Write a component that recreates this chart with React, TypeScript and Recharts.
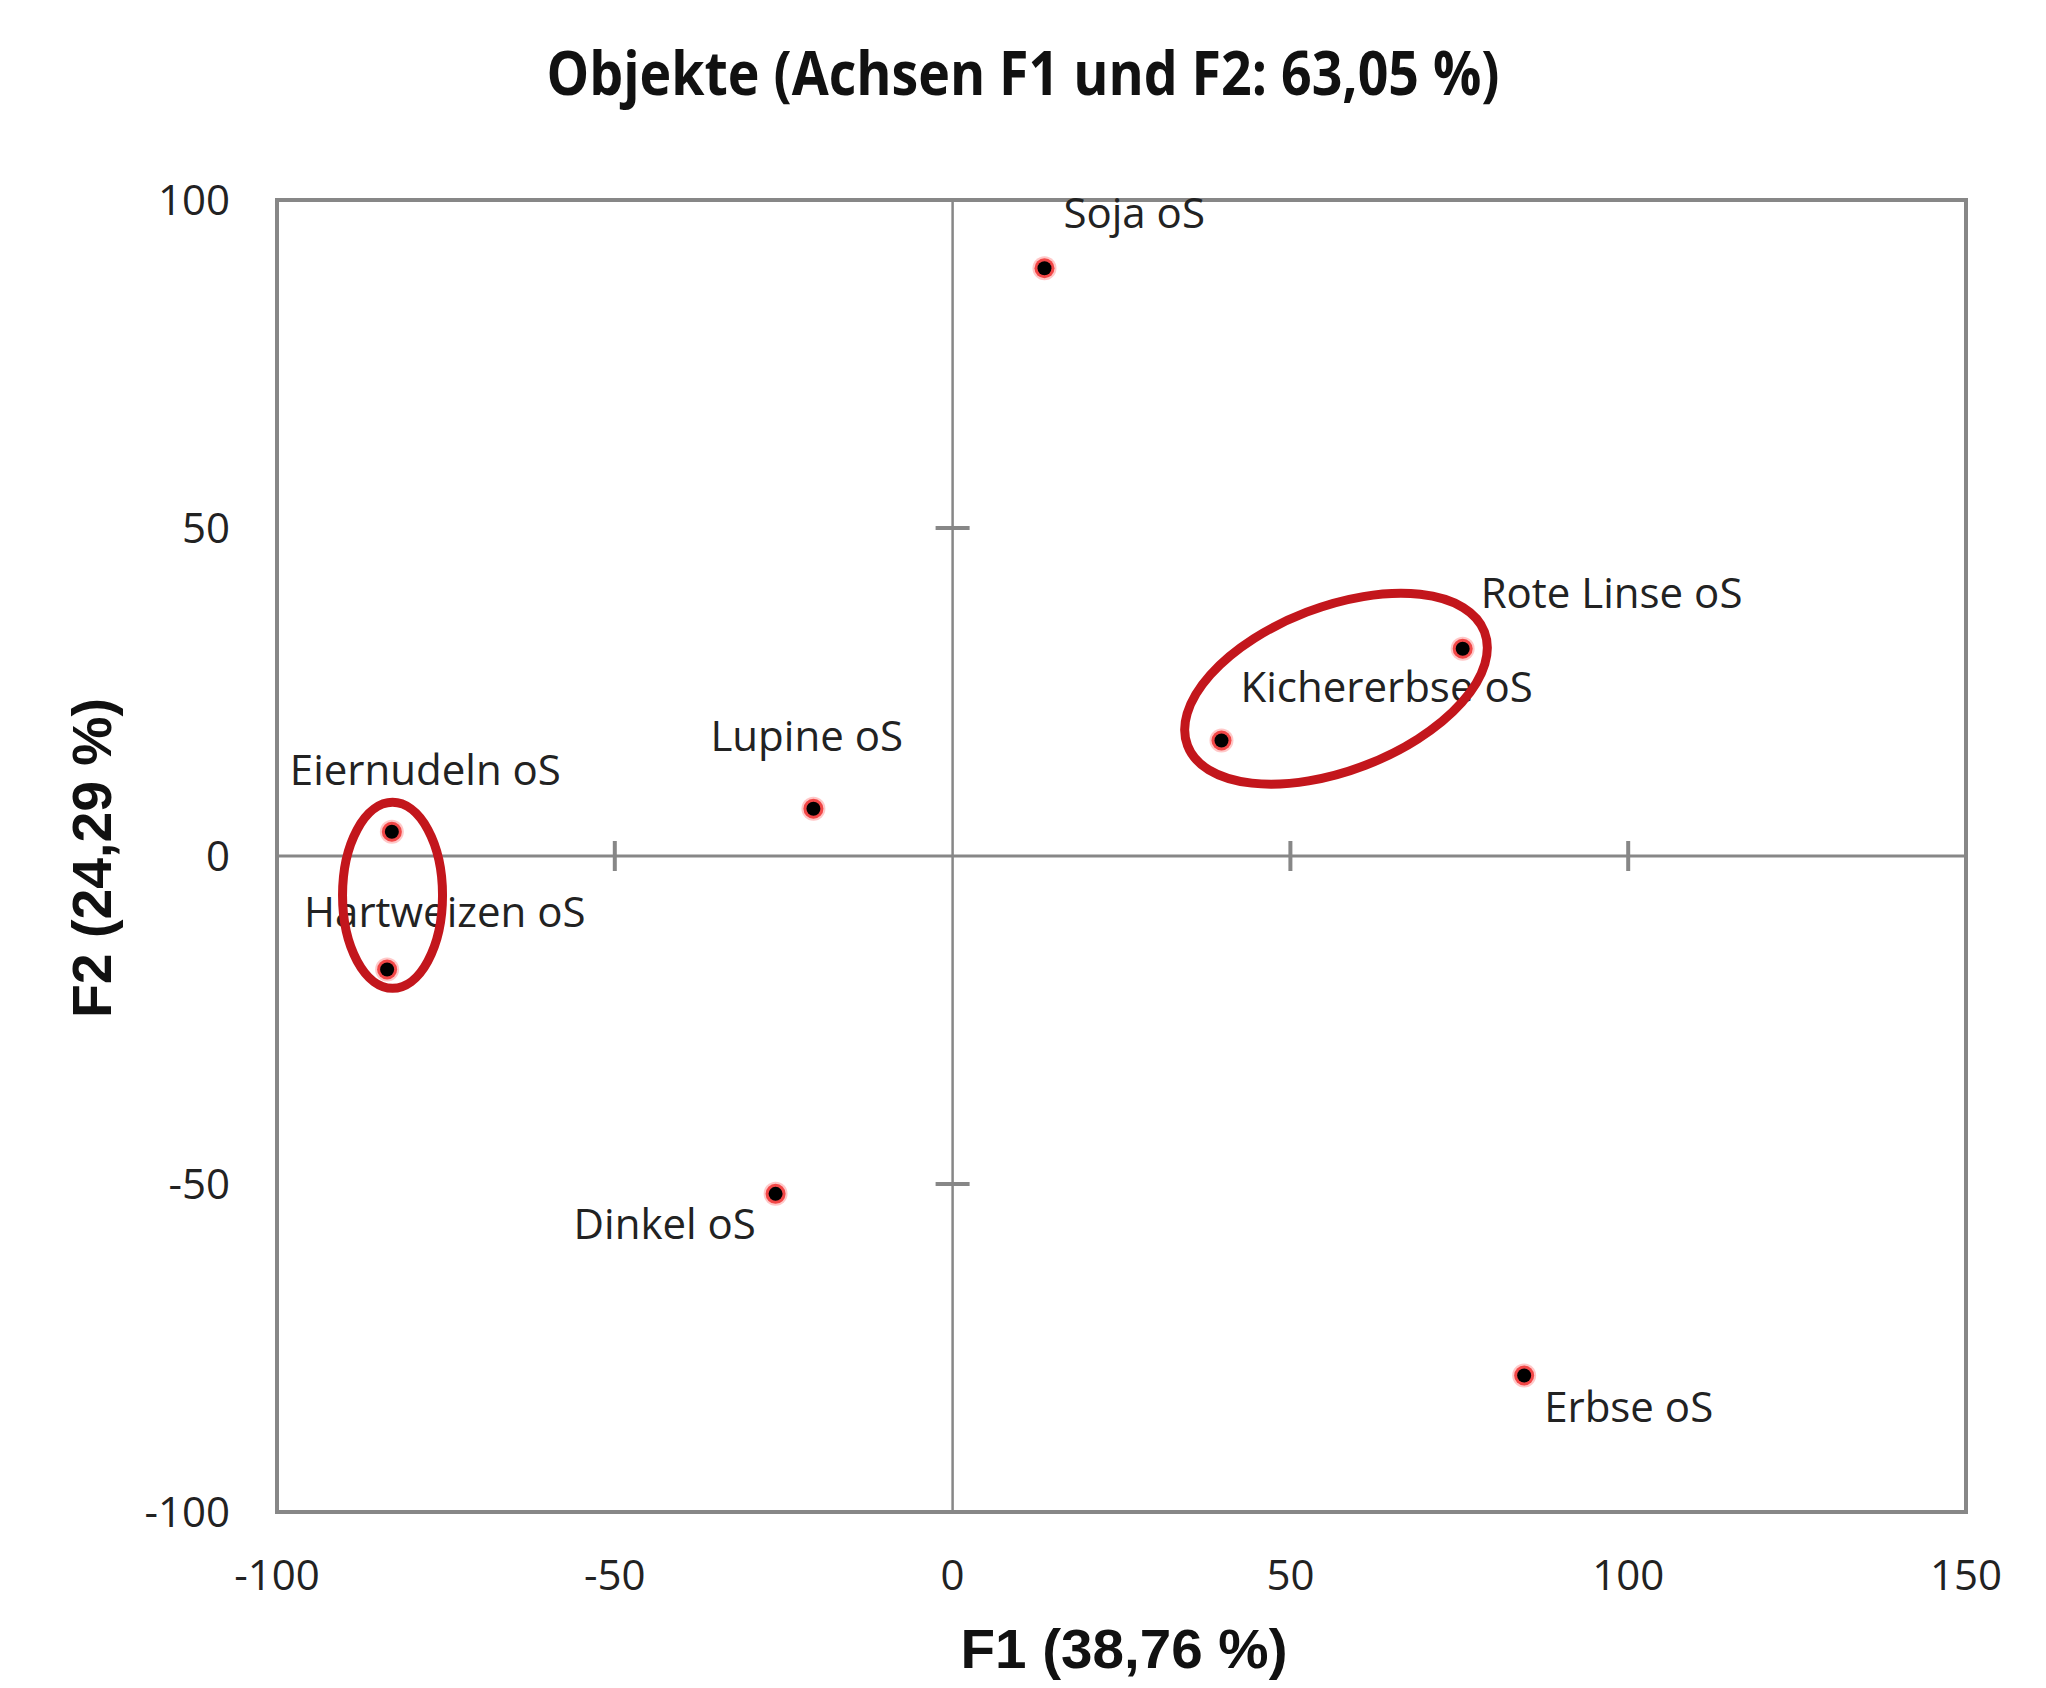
import React from 'react';
import {
  ScatterChart,
  Scatter,
  XAxis,
  YAxis,
  ReferenceLine,
  ReferenceArea,
  ReferenceDot,
} from 'recharts';

// ---- data ----
const objectNames = [
  'Soja oS',
  'Rote Linse oS',
  'Kichererbse oS',
  'Lupine oS',
  'Eiernudeln oS',
  'Hartweizen oS',
  'Dinkel oS',
  'Erbse oS',
];
const f1Values = [13.6, 75.5, 39.8, -20.6, -83.0, -83.7, -26.2, 84.6];
const f2Values = [89.6, 31.6, 17.6, 7.2, 3.7, -17.3, -51.5, -79.2];

const xTicks = [-100, -50, 0, 50, 100, 150];
const yTicks = [-100, -50, 0, 50, 100];
const xCrossTicks = [-50, 50, 100];
const yCrossTicks = [-50, 50];

// highlighted groups (ellipse centres in data units)
const groupF1 = [-82.9, 56.75];
const groupF2 = [-6.0, 25.5];

const titleText = 'Objekte (Achsen F1 und F2: 63,05 %)';
const xTitle = 'F1 (38,76 %)';
const yTitle = 'F2 (24,29 %)';

// ---- styling / placement (pixels) ----
const labelOffsets: Record<string, [number, number]> = {
  'Soja oS': [19, -40],
  'Rote Linse oS': [18, -41],
  'Kichererbse oS': [19, -39],
  'Lupine oS': [-103, -58],
  'Eiernudeln oS': [-102, -47],
  'Hartweizen oS': [-83, -42],
  'Dinkel oS': [-202, 45],
  'Erbse oS': [20, 46],
};
const ellipseGeometry: [number, number, number][] = [
  [50, 93, 0],
  [159, 82, -21],
];

const points = objectNames.map((name, i) => ({ name, x: f1Values[i], y: f2Values[i] }));
const groups = groupF1.map((x, i) => ({ x, y: groupF2[i], idx: i }));

const GRAY = '#878787';
const TEXT = '#222222';
const FONT = "'Open Sans', 'Noto Sans', sans-serif";

const PointShape = (props: any) => {
  const { cx, cy, payload } = props;
  const [dx, dy] = labelOffsets[payload.name] || [10, -10];
  return (
    <g>
      <circle cx={cx} cy={cy} r={12} fill="#ff6060" opacity={0.35} />
      <circle cx={cx} cy={cy} r={10} fill="#f03030" opacity={0.85} />
      <circle cx={cx} cy={cy} r={7} fill="#000000" />
      <text x={cx + dx} y={cy + dy} fontFamily={FONT} fontSize={42} fill={TEXT}>
        {payload.name}
      </text>
    </g>
  );
};

const EllipseShape = (props: any) => {
  const { cx, cy, payload } = props;
  const [rx, ry, rot] = ellipseGeometry[payload.idx];
  return (
    <ellipse
      cx={cx}
      cy={cy}
      rx={rx}
      ry={ry}
      fill="none"
      stroke="#c3161c"
      strokeWidth={9}
      transform={`rotate(${rot} ${cx} ${cy})`}
    />
  );
};

const VTick = (props: any) => {
  const { cx, cy } = props;
  return <line x1={cx} x2={cx} y1={cy - 15} y2={cy + 15} stroke={GRAY} strokeWidth={4} />;
};
const HTick = (props: any) => {
  const { cx, cy } = props;
  return <line x1={cx - 17} x2={cx + 17} y1={cy} y2={cy} stroke={GRAY} strokeWidth={4} />;
};

export default function App() {
  return (
    <ScatterChart
      width={2030}
      height={1672}
      margin={{ top: 192, right: 72, left: 169, bottom: 68 }}
    >
      <XAxis
        type="number"
        dataKey="x"
        domain={[-100, 150]}
        ticks={xTicks}
        interval={0}
        axisLine={false}
        tickLine={false}
        tickSize={0}
        tickMargin={48}
        height={100}
        tick={{ fontFamily: FONT, fontSize: 42, fill: TEXT }}
      />
      <YAxis
        type="number"
        dataKey="y"
        domain={[-100, 100]}
        ticks={yTicks}
        interval={0}
        axisLine={false}
        tickLine={false}
        tickSize={0}
        tickMargin={47}
        width={100}
        tick={{ fontFamily: FONT, fontSize: 42, fill: TEXT }}
      />
      <ReferenceArea
        x1={-100}
        x2={150}
        y1={-100}
        y2={100}
        fill="none"
        fillOpacity={0}
        stroke={GRAY}
        strokeWidth={4}
      />
      <ReferenceLine y={0} stroke={GRAY} strokeWidth={3} />
      <ReferenceLine x={0} stroke={GRAY} strokeWidth={2.5} />
      {xCrossTicks.map((t) => (
        <ReferenceDot key={`xt${t}`} x={t} y={0} r={1} shape={VTick} />
      ))}
      {yCrossTicks.map((t) => (
        <ReferenceDot key={`yt${t}`} x={0} y={t} r={1} shape={HTick} />
      ))}
      <Scatter data={points} isAnimationActive={false} shape={PointShape} />
      <Scatter data={groups} isAnimationActive={false} shape={EllipseShape} />
      <text
        x={1015}
        y={87}
        textAnchor="middle"
        fontFamily={FONT}
        fontWeight="bold"
        fontSize={61}
        textLength={953}
        lengthAdjust="spacingAndGlyphs"
        fill="#111111"
      >
        {titleText}
      </text>
      <text
        x={1116}
        y={1660}
        textAnchor="middle"
        fontFamily="'Liberation Sans', Arial, sans-serif"
        fontWeight="bold"
        fontSize={55}
        textLength={327}
        lengthAdjust="spacingAndGlyphs"
        fill="#111111"
      >
        {xTitle}
      </text>
      <text
        transform="translate(103 850) rotate(-90)"
        x={0}
        y={0}
        textAnchor="middle"
        fontFamily="'Liberation Sans', Arial, sans-serif"
        fontWeight="bold"
        fontSize={56}
        textLength={320}
        lengthAdjust="spacingAndGlyphs"
        fill="#111111"
      >
        {yTitle}
      </text>
    </ScatterChart>
  );
}
